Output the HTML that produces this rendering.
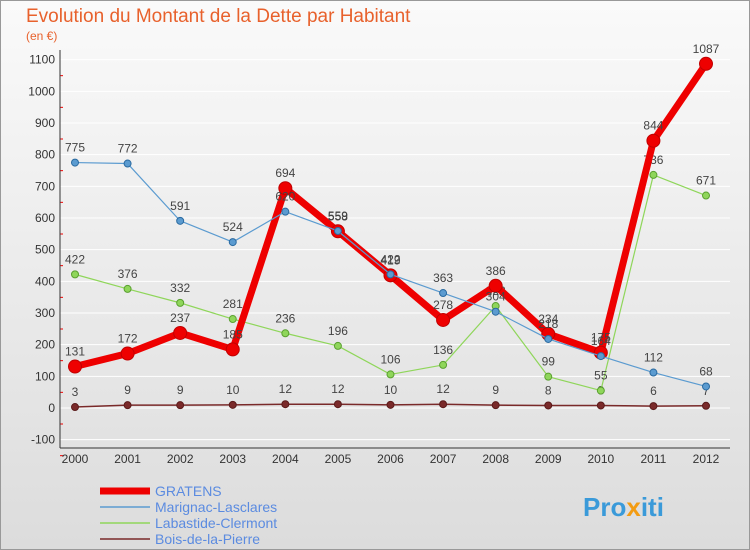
<!DOCTYPE html>
<html><head><meta charset="utf-8"><style>
body{margin:0;width:750px;height:550px;overflow:hidden;font-family:"Liberation Sans",sans-serif}
svg{display:block}
</style></head><body>
<svg id="c" width="750" height="550">
<defs><linearGradient id="bg" x1="0" y1="0" x2="0" y2="1"><stop offset="0" stop-color="#fafafa"/><stop offset="1" stop-color="#dcdcdc"/></linearGradient></defs>
<rect x="0.5" y="0.5" width="749" height="549" fill="url(#bg)" stroke="#999"/>
<text x="26" y="22" font-size="19" fill="#e8612c">Evolution du Montant de la Dette par Habitant</text>
<text x="26" y="40" font-size="12" fill="#e8612c">(en €)</text>
<g id="axes"></g><g id="series"></g><g id="legend"></g>
<text x="583" y="516" font-size="26" font-weight="bold" fill="#3a9ad9">Pro<tspan fill="#f39c12">x</tspan>iti</text>
</svg>
<script>
const years=[2000,2001,2002,2003,2004,2005,2006,2007,2008,2009,2010,2011,2012];
const yTicks=[-100,0,100,200,300,400,500,600,700,800,900,1000,1100];
const gratens=[131,172,237,185,694,558,419,278,386,234,175,844,1087];
const marignac=[775,772,591,524,620,559,422,363,304,218,164,112,68];
const labastide=[422,376,332,281,236,196,106,136,322,99,55,736,671];
const bois=[3,9,9,10,12,12,10,12,9,8,8,6,7];
const names=["GRATENS","Marignac-Lasclares","Labastide-Clermont","Bois-de-la-Pierre"];
const NS="http://www.w3.org/2000/svg";
const x=i=>75+i*(706-75)/12;
const y=v=>408-v*(380/1200);
function mk(t,a,p){const e=document.createElementNS(NS,t);for(const k in a)e.setAttribute(k,a[k]);p.appendChild(e);return e;}
const ax=document.getElementById('axes');
yTicks.forEach(v=>{
 const l=mk('line',{x1:60,x2:730,y1:y(v),y2:y(v),stroke:'#fff','stroke-width':1},ax);
 
 
 const t=mk('text',{x:55,y:y(v)+4,'font-size':12,'text-anchor':'end',fill:'#333'},ax);t.textContent=v;
 
 
 mk('line',{x1:60,x2:63,y1:y(v)+16,y2:y(v)+16,stroke:'#e00'},ax);
});
mk('line',{x1:60,x2:60,y1:50,y2:448,stroke:'#333'},ax);
mk('line',{x1:60,x2:730,y1:448,y2:448,stroke:'#333'},ax);
years.forEach((yr,i)=>{
 const t=mk('text',{x:x(i),y:463,'font-size':12,'text-anchor':'middle',fill:'#333'},ax);t.textContent=yr;
 
 
});
const sg=document.getElementById('series');
function series(d,col,w,r,nm,stroke){
 const g=mk('g',{},sg);
 
 
 mk('polyline',{points:d.map((v,i)=>x(i)+','+y(v)).join(' '),fill:'none',stroke:col,'stroke-width':w,'stroke-linejoin':'round'},g);
 d.forEach((v,i)=>{
  const c=mk('circle',{cx:x(i),cy:y(v),r:r,fill:col,stroke:stroke,'stroke-width':1},g);
  
  
  const t=mk('text',{x:x(i),y:y(v)-11,'font-size':12,'text-anchor':'middle',fill:'#444'},g);t.textContent=v;
  
  
 });
}
series(bois,'#7a2a2a',1.5,3.5,'bois-de-la-pierre-series','#5a1a1a');
series(labastide,'#8fd65a',1.2,3.5,'labastide-clermont-series','#5aa030');
series(gratens,'#ee0000',7,6.5,'gratens-series','#c00000');
series(marignac,'#5b9bd0',1.2,3.5,'marignac-lasclares-series','#2a6aa0');
const lg=document.getElementById('legend');
const cols=['#ee0000','#5b9bd0','#8fd65a','#7a2a2a'],ws=[7,1.5,1.5,1.5];
names.forEach((n,i)=>{
 const yy=491+i*16;
 const l=mk('line',{x1:100,x2:150,y1:yy,y2:yy,stroke:cols[i],'stroke-width':ws[i]},lg);
 
 
 const t=mk('text',{x:155,y:yy+5,'font-size':14,fill:'#5b8be0'},lg);t.textContent=n;
 
 
});
</script>
</body></html>
